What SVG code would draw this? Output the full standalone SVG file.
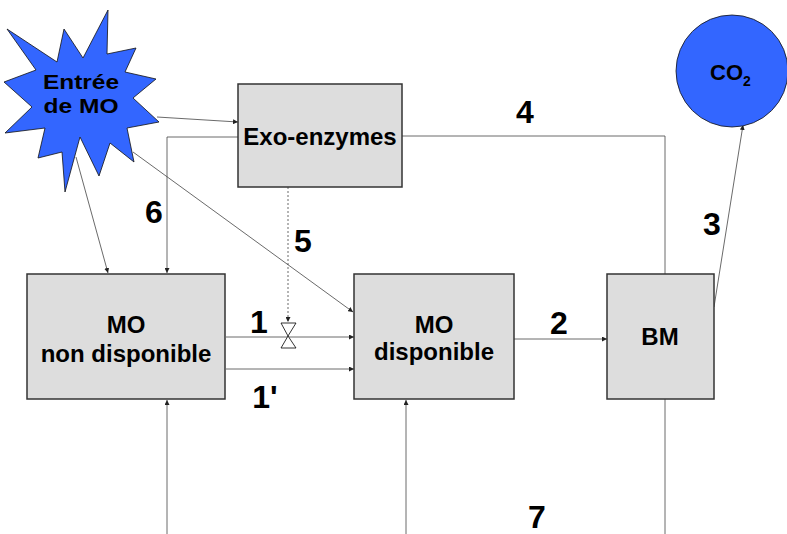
<svg xmlns="http://www.w3.org/2000/svg" width="787" height="534" viewBox="0 0 787 534">
<style>
.box{fill:#dddddd;stroke:#333;stroke-width:1.5}
.lbl{font-family:"Liberation Sans",Arial,sans-serif;font-weight:bold;font-size:24px;fill:#000;text-anchor:middle}
.star{font-family:"Liberation Sans",Arial,sans-serif;font-weight:bold;font-size:21px;fill:#000;text-anchor:middle}
.num{font-family:"Liberation Sans",Arial,sans-serif;font-weight:bold;font-size:32px;fill:#000;text-anchor:middle}
.ln{fill:none;stroke:#444;stroke-width:0.8}
.arr{marker-end:url(#ah)}
.dot{stroke-dasharray:2,2}
</style>
<defs>
<marker id="ah" viewBox="0 0 6 6" refX="6" refY="3" markerWidth="5" markerHeight="5" markerUnits="userSpaceOnUse" orient="auto">
<path d="M0,0 L6,3 L0,6 z" fill="#222"/>
</marker>
</defs>
<rect width="787" height="534" fill="#fff"/>
<g id="connectors">
<line class="ln arr" x1="157" y1="117" x2="238" y2="122"/>
<polyline class="ln arr" points="238,137 167,137 167,273"/>
<polyline class="ln" points="402,136 665,136 665,274"/>
<line class="ln arr" x1="76" y1="157" x2="108" y2="273"/>
<line class="ln arr" x1="133" y1="152" x2="353" y2="312"/>
<line class="ln dot arr" x1="288" y1="187" x2="288" y2="322"/>
<line class="ln arr" x1="226" y1="337" x2="354" y2="337"/>
<line class="ln arr" x1="226" y1="369" x2="354" y2="369"/>
<line class="ln arr" x1="514" y1="339" x2="607" y2="339"/>
<line class="ln arr" x1="714" y1="307" x2="743" y2="125"/>
<line class="ln arr" x1="167" y1="534" x2="167" y2="400"/>
<line class="ln arr" x1="406" y1="534" x2="406" y2="400"/>
<line class="ln" x1="665" y1="399" x2="665" y2="534"/>
<path d="M281,323 L296,323 L288,336 Z M288,336 L296,348 L281,348 Z" fill="#fff" stroke="#000" stroke-width="0.8"/>
</g>
<g id="entree">
<polygon points="7,29 57,62 64,29 83,58 108,10 107,54 136,48 125,72 156,79 133,98 159,122 127,128 134,162 110,143 99,176 80,137 65,192 62,152 38,158 45,128 5,133 32,107 4,82 36,70" fill="#3366ff" stroke="#111" stroke-width="0.8"/>
<text class="star" x="81" y="89" textLength="76" lengthAdjust="spacingAndGlyphs">Entrée</text>
<text class="star" x="81" y="113" textLength="75" lengthAdjust="spacingAndGlyphs">de MO</text>
</g>
<g id="exo">
<rect class="box" x="238" y="84" width="164" height="103"/>
<text class="lbl" x="320" y="145">Exo-enzymes</text>
</g>
<g id="co2">
<circle cx="732" cy="71" r="56" fill="#3366ff" stroke="#111" stroke-width="0.8"/>
<text x="710" y="80" font-family="Liberation Sans,Arial,sans-serif" font-weight="bold" font-size="22" fill="#000">CO<tspan font-size="14" dy="6">2</tspan></text>
</g>
<g id="mond">
<rect class="box" x="27" y="274" width="198" height="125"/>
<text class="lbl" x="126" y="333">MO</text>
<text class="lbl" x="126" y="362">non disponible</text>
</g>
<g id="mod">
<rect class="box" x="354" y="274" width="160" height="125"/>
<text class="lbl" x="434" y="333">MO</text>
<text class="lbl" x="434" y="360">disponible</text>
</g>
<g id="bm">
<rect class="box" x="607" y="274" width="107" height="125"/>
<text class="lbl" x="660" y="345">BM</text>
</g>
<g id="labels">
<text class="num" x="525" y="123">4</text>
<text class="num" x="712" y="235">3</text>
<text class="num" x="154" y="223">6</text>
<text class="num" x="303" y="252">5</text>
<text class="num" x="259" y="333">1</text>
<text class="num" x="265" y="408">1'</text>
<text class="num" x="559" y="334">2</text>
<text class="num" x="537" y="528">7</text>
</g>
</svg>
